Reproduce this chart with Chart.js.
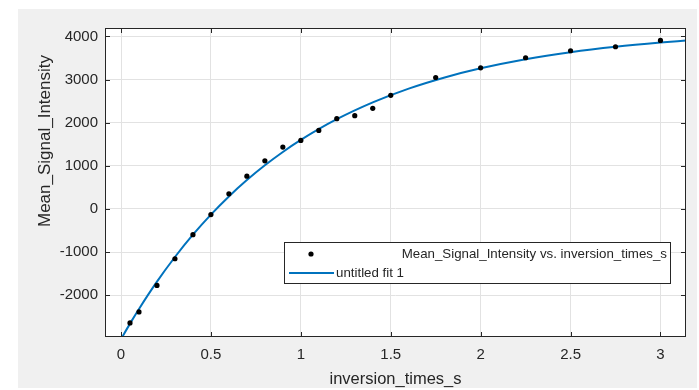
<!DOCTYPE html>
<html>
<head>
<meta charset="utf-8">
<script src="https://cdn.jsdelivr.net/npm/chart.js@4/dist/chart.umd.min.js"></script>
<style>
    html, body { margin: 0; padding: 0; background: #ffffff; }
    #wrap { width: 699px; height: 390px; }
</style>
</head>
<body>
<div id="wrap"><canvas id="fitChart" width="699" height="390"></canvas></div>
<script>
// measured points
const inversionTimes = [0.05, 0.1, 0.2, 0.3, 0.4, 0.5, 0.6, 0.7, 0.8, 0.9, 1.0, 1.1, 1.2, 1.3, 1.4, 1.5, 1.75, 2.0, 2.25, 2.5, 2.75, 3.0];
const meanSignal = [-2644, -2388, -1774, -1156, -597, -132, 349, 760, 1116, 1434, 1589, 1821, 2093, 2163, 2333, 2635, 3047, 3271, 3505, 3667, 3760, 3907];

// fitted curve
const fitTimes = [0, 0.05, 0.1, 0.2, 0.3, 0.4, 0.5, 0.6, 0.7, 0.8, 0.9, 1.0, 1.2, 1.4, 1.6, 1.8, 2.0, 2.25, 2.5, 2.75, 3.0, 3.142];
const fitSignal = [-3020, -2660, -2319, -1686, -1115, -598, -132, 289, 668, 1011, 1321, 1600, 2080, 2471, 2790, 3049, 3261, 3472, 3635, 3761, 3859, 3905];

const xTicks = [0, 0.5, 1, 1.5, 2, 2.5, 3];
const yTicks = [-2000, -1000, 0, 1000, 2000, 3000, 4000];

const legendLabels = ['Mean_Signal_Intensity vs. inversion_times_s', 'untitled fit 1'];
const xTitle = 'inversion_times_s';
const yTitle = 'Mean_Signal_Intensity';

const FONT = '"Liberation Sans", Arial, Helvetica, sans-serif';
const AXIS_COLOR = '#262626';
const FIT_BLUE = '#0072BD';

const panelPlugin = {
    id: 'panel',
    beforeDraw(chart) {
        const ctx = chart.ctx;
        ctx.save();
        ctx.fillStyle = '#ffffff';
        ctx.fillRect(0, 0, chart.width, chart.height);
        ctx.fillStyle = '#f0f0f0';
        ctx.fillRect(18, 9, 679, 379);
        const a = chart.chartArea;
        ctx.fillStyle = '#ffffff';
        ctx.fillRect(a.left, a.top, a.right - a.left, a.bottom - a.top);
        ctx.restore();
    }
};

const framePlugin = {
    id: 'frame',
    afterDraw(chart) {
        const ctx = chart.ctx;
        const a = chart.chartArea;
        const xs = chart.scales.x;
        const ys = chart.scales.y;
        ctx.save();

        // box
        ctx.strokeStyle = AXIS_COLOR;
        ctx.lineWidth = 1;
        ctx.strokeRect(Math.round(a.left) + 0.5, Math.round(a.top) + 0.5,
            Math.round(a.right - a.left) - 1, Math.round(a.bottom - a.top) - 1);

        // inward ticks on all sides
        const tl = 5;
        ctx.beginPath();
        xTicks.forEach(v => {
            const px = Math.round(xs.getPixelForValue(v)) + 0.5;
            ctx.moveTo(px, a.bottom); ctx.lineTo(px, a.bottom - tl);
            ctx.moveTo(px, a.top); ctx.lineTo(px, a.top + tl);
        });
        yTicks.forEach(v => {
            const py = Math.round(ys.getPixelForValue(v)) + 0.5;
            ctx.moveTo(a.left, py); ctx.lineTo(a.left + tl, py);
            ctx.moveTo(a.right, py); ctx.lineTo(a.right - tl, py);
        });
        ctx.stroke();

        // axis titles
        ctx.fillStyle = AXIS_COLOR;
        ctx.textAlign = 'center';
        ctx.textBaseline = 'middle';
        ctx.font = '16.5px ' + FONT;
        ctx.fillText(xTitle, (a.left + a.right) / 2, 379);
        ctx.save();
        ctx.translate(45, 141);
        ctx.rotate(-Math.PI / 2);
        ctx.font = '17px ' + FONT;
        ctx.fillText(yTitle, 0, 0);
        ctx.restore();

        // legend box
        ctx.fillStyle = '#ffffff';
        ctx.fillRect(284, 242, 387, 42);
        ctx.strokeStyle = AXIS_COLOR;
        ctx.strokeRect(284.5, 242.5, 386, 41);

        ctx.fillStyle = '#000000';
        ctx.beginPath();
        ctx.arc(311, 254, 2.6, 0, Math.PI * 2);
        ctx.fill();

        ctx.strokeStyle = FIT_BLUE;
        ctx.lineWidth = 2;
        ctx.beginPath();
        ctx.moveTo(289, 273); ctx.lineTo(334, 273);
        ctx.stroke();

        ctx.fillStyle = AXIS_COLOR;
        ctx.font = '13.3px ' + FONT;
        ctx.textAlign = 'right';
        ctx.fillText(legendLabels[0], 667, 254);
        ctx.textAlign = 'left';
        ctx.fillText(legendLabels[1], 336, 273);

        ctx.restore();
    }
};

new Chart(document.getElementById('fitChart'), {
    type: 'scatter',
    data: {
        datasets: [
            {
                label: legendLabels[1],
                data: fitTimes.map((t, i) => ({ x: t, y: fitSignal[i] })),
                showLine: true,
                borderColor: FIT_BLUE,
                borderWidth: 2,
                pointRadius: 0,
                cubicInterpolationMode: 'monotone',
                order: 2
            },
            {
                label: legendLabels[0],
                data: inversionTimes.map((t, i) => ({ x: t, y: meanSignal[i] })),
                backgroundColor: '#000000',
                borderColor: '#000000',
                pointRadius: 2.6,
                borderWidth: 0,
                order: 1
            }
        ]
    },
    options: {
        responsive: false,
        animation: false,
        layout: { padding: { left: 0, top: 28, right: 13, bottom: 0 } },
        plugins: {
            legend: { display: false },
            tooltip: { enabled: false }
        },
        scales: {
            x: {
                type: 'linear',
                min: -0.089,
                max: 3.142,
                afterBuildTicks: s => { s.ticks = xTicks.map(v => ({ value: v })); },
                afterFit: s => { s.height = 53; },
                border: { display: false },
                grid: { color: '#e2e2e2', lineWidth: 1, drawTicks: false },
                ticks: {
                    padding: 9,
                    color: AXIS_COLOR,
                    font: { family: FONT, size: 15 },
                    callback: v => String(v)
                }
            },
            y: {
                type: 'linear',
                min: -2970,
                max: 4195,
                afterBuildTicks: s => { s.ticks = yTicks.map(v => ({ value: v })); },
                afterFit: s => { s.width = 105; },
                border: { display: false },
                grid: { color: '#e2e2e2', lineWidth: 1, drawTicks: false },
                ticks: {
                    padding: 7,
                    color: AXIS_COLOR,
                    font: { family: FONT, size: 15 },
                    callback: v => String(v)
                }
            }
        }
    },
    plugins: [panelPlugin, framePlugin]
});
</script>
</body>
</html>
